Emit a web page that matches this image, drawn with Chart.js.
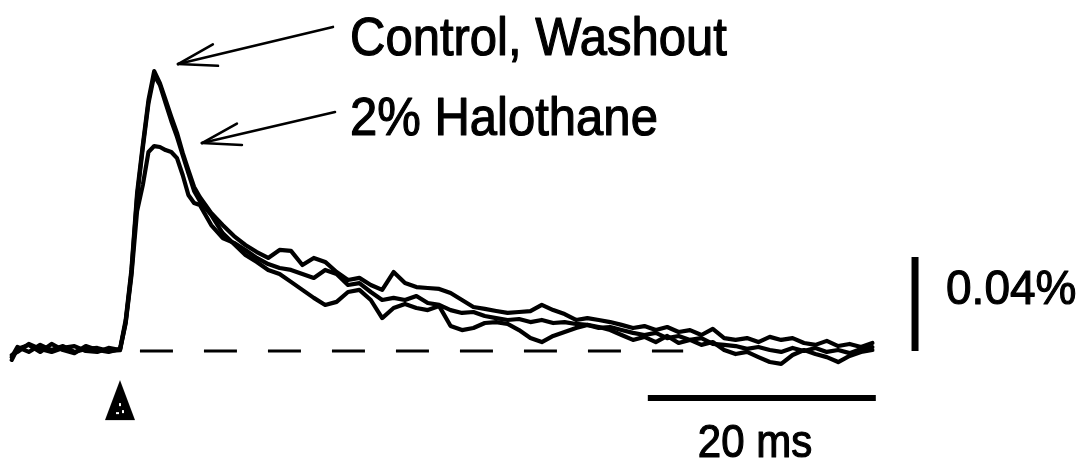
<!DOCTYPE html>
<html>
<head>
<meta charset="utf-8">
<script src="https://cdn.jsdelivr.net/npm/chart.js@4.4.1/dist/chart.umd.min.js"></script>
<style>
html,body{margin:0;padding:0;background:#fff;}
#wrap{width:1087px;height:464px;position:relative;background:#fff;}
</style>
</head>
<body>
<div id="wrap"><canvas id="c" width="1087" height="464"></canvas></div>
<script>
// ---- data (time in ms after stimulus, fluorescence change in % dF/F) ----
const timeMs = [-9.5,-9,-8,-7,-6,-5,-4,-3,-2,-1,0,
  0.5,1,1.5,2,2.5,3,3.5,4,4.5,5,5.5,6,6.5,7,
  8,9,10,11,12,13,14,15,16,17,18,19,20,21,22,23,24,25,26,27,28,29,30,31,32,33,34,35,36,37,
  38,39,40,41,42,43,44,45,46,47,48,49,50,51,52,53,54,55,56,57,58,59,60,61,62,63,64,65,66];

const control = [-0.0038,0.0009,0.0026,-0.0004,0.0030,0.0004,-0.0009,0.0021,0.0004,-0.0004,0.0009,
  0.0132,0.0345,0.0672,0.0877,0.1068,0.1191,0.1140,0.1068,0.0996,0.0928,0.0843,0.0770,0.0698,0.0655,
  0.0587,0.0536,0.0489,0.0451,0.0421,0.0396,0.0430,0.0426,0.0366,0.0396,0.0379,0.0336,0.0302,0.0311,0.0281,0.0260,0.0336,0.0289,0.0272,0.0268,0.0264,0.0247,0.0217,0.0187,0.0179,0.0170,0.0162,0.0166,0.0170,0.0196,
  0.0174,0.0157,0.0132,0.0140,0.0132,0.0123,0.0111,0.0098,0.0106,0.0089,0.0102,0.0081,0.0089,0.0068,0.0094,0.0055,0.0047,0.0055,0.0038,0.0060,0.0047,0.0055,0.0034,0.0026,0.0043,0.0021,0.0030,0.0017,0.0034];

const washout = [-0.0026,0.0017,-0.0004,0.0026,0.0004,0.0021,-0.0004,0.0009,0.0013,0,0.0004,
  0.0123,0.0332,0.0655,0.0864,0.1055,0.1174,0.1132,0.1055,0.0979,0.0911,0.0834,0.0757,0.0681,0.0638,
  0.0579,0.0502,0.0455,0.0409,0.0379,0.0345,0.0328,0.0294,0.0260,0.0226,0.0196,0.0209,0.0251,0.0260,0.0217,0.0140,0.0183,0.0200,0.0183,0.0174,0.0191,0.0106,0.0089,0.0098,0.0119,0.0123,0.0115,0.0089,0.0055,0.0038,
  0.0064,0.0081,0.0098,0.0111,0.0102,0.0089,0.0068,0.0047,0.0060,0.0038,0.0064,0.0034,0.0047,0.0026,0.0038,0.0004,-0.0013,-0.0004,-0.0026,-0.0047,-0.0055,-0.0017,0.0004,-0.0013,-0.0026,-0.0047,-0.0021,-0.0004,0.0004];

const halothane = [-0.0017,-0.0004,0.0030,0.0009,-0.0004,0.0013,0.0021,0,-0.0004,0.0013,0.0004,
  0.0119,0.0319,0.0596,0.0706,0.0847,0.0872,0.0868,0.0855,0.0847,0.0821,0.0749,0.0664,0.0630,0.0621,
  0.0536,0.0481,0.0460,0.0430,0.0396,0.0370,0.0353,0.0345,0.0328,0.0311,0.0345,0.0328,0.0281,0.0289,0.0251,0.0217,0.0226,0.0217,0.0234,0.0204,0.0196,0.0174,0.0162,0.0166,0.0149,0.0140,0.0132,0.0136,0.0123,0.0132,
  0.0119,0.0123,0.0115,0.0111,0.0098,0.0102,0.0089,0.0077,0.0068,0.0077,0.0055,0.0064,0.0047,0.0055,0.0030,0.0026,0.0021,0.0009,0.0017,0.0004,-0.0004,0.0013,0,0.0013,-0.0004,0.0004,-0.0009,0.0009,0.0017];

const seriesNames = ['Control', 'Washout', '2% Halothane'];
const labelTexts = ['Control, Washout', '2% Halothane'];
const timeBarMs = 20;          // horizontal scale bar length (ms)
const timeBarLabel = '20 ms';
const ampBarPct = 0.04;        // vertical scale bar height (%)
const ampBarLabel = '0.04%';
const stimulusTime = 0;        // stimulus marker (ms)

// ---- layout (annotation placement in data units) ----
const view = { xMin: -10.526, xMax: 84.825, yMin: -0.04809, yMax: 0.14936 };
const baselineSpan = [1.75, 49.4];
const timeBarStart = 46.3, timeBarLevel = -0.0200;
const ampBarTime = 69.74, ampBarBase = 0;
const stimulusLevel = -0.0209;
const arrows = [
  { head: [5.09, 0.1221], tail: [18.68, 0.1379] },
  { head: [7.19, 0.0885], tail: [18.86, 0.1017] }
];
const textSpots = [
  { text: labelTexts[0], x: 20.18, y: 0.1260, align: 'left', size: 49, stretch: 1.1 },
  { text: labelTexts[1], x: 20.18, y: 0.0920, align: 'left', size: 49, stretch: 1.1 },
  { text: ampBarLabel, x: 72.46, y: 0.0200, align: 'left', size: 46, stretch: 1.06 },
  { text: timeBarLabel, x: 55.7, y: -0.0451, align: 'center', size: 42, stretch: 1.08 }
];

// stimulus triangle glyph
const tri = document.createElement('canvas');
tri.width = 32; tri.height = 42;
(function(){
  const g = tri.getContext('2d');
  g.fillStyle = '#000';
  g.beginPath(); g.moveTo(16, 1); g.lineTo(31, 41); g.lineTo(1, 41); g.closePath(); g.fill();
  g.fillStyle = '#fff';
  g.fillRect(15, 24, 2, 3); g.fillRect(12, 33, 3, 2); g.fillRect(18, 31, 2, 3);
})();

const toXY = arr => timeMs.map((t, i) => ({ x: t, y: arr[i] }));
const traceStyle = { borderColor: '#000', borderWidth: 4.2, pointRadius: 0, tension: 0, fill: false, clip: false, borderJoinStyle: 'round', borderCapStyle: 'round' };

const annotationPlugin = {
  id: 'annot',
  afterDatasetsDraw(chart) {
    const ctx = chart.ctx, xs = chart.scales.x, ys = chart.scales.y;
    ctx.save();
    ctx.strokeStyle = '#000'; ctx.fillStyle = '#000';
    ctx.lineWidth = 2.6; ctx.lineCap = 'round';
    arrows.forEach(a => {
      const hx = xs.getPixelForValue(a.head[0]), hy = ys.getPixelForValue(a.head[1]);
      const tx = xs.getPixelForValue(a.tail[0]), ty = ys.getPixelForValue(a.tail[1]);
      ctx.beginPath(); ctx.moveTo(tx, ty); ctx.lineTo(hx, hy); ctx.stroke();
      const ang = Math.atan2(ty - hy, tx - hx), len = 40, spread = 16 * Math.PI / 180;
      [ang - spread, ang + spread].forEach(b => {
        ctx.beginPath(); ctx.moveTo(hx, hy); ctx.lineTo(hx + len * Math.cos(b), hy + len * Math.sin(b)); ctx.stroke();
      });
    });
    textSpots.forEach(s => {
      ctx.save();
      ctx.translate(xs.getPixelForValue(s.x), ys.getPixelForValue(s.y));
      ctx.scale(1, s.stretch);
      ctx.font = s.size + 'px "Liberation Sans", Arial, sans-serif';
      ctx.textAlign = s.align; ctx.textBaseline = 'alphabetic';
      ctx.lineWidth = 1.1; ctx.lineJoin = 'round';
      ctx.fillText(s.text, 0, 0);
      ctx.strokeText(s.text, 0, 0);
      ctx.restore();
    });
    ctx.restore();
  }
};

new Chart(document.getElementById('c'), {
  type: 'line',
  data: {
    datasets: [
      Object.assign({ label: seriesNames[0], data: toXY(control) }, traceStyle),
      Object.assign({ label: seriesNames[1], data: toXY(washout) }, traceStyle),
      Object.assign({ label: seriesNames[2], data: toXY(halothane) }, traceStyle),
      { label: 'baseline', data: [{ x: baselineSpan[0], y: 0 }, { x: baselineSpan[1], y: 0 }],
        borderColor: '#000', borderWidth: 3, borderDash: [33, 31], pointRadius: 0, clip: false },
      { label: 'time bar', data: [{ x: timeBarStart, y: timeBarLevel }, { x: timeBarStart + timeBarMs, y: timeBarLevel }],
        borderColor: '#000', borderWidth: 6, pointRadius: 0, clip: false },
      { label: 'amplitude bar', data: [{ x: ampBarTime, y: ampBarBase }, { x: ampBarTime, y: ampBarBase + ampBarPct }],
        borderColor: '#000', borderWidth: 7, pointRadius: 0, clip: false },
      { type: 'scatter', label: 'stimulus', data: [{ x: stimulusTime, y: stimulusLevel }],
        pointStyle: tri, pointRadius: 10, showLine: false, clip: false }
    ]
  },
  options: {
    responsive: false,
    animation: false,
    devicePixelRatio: 1,
    layout: { padding: 0, autoPadding: false },
    plugins: { legend: { display: false }, tooltip: { enabled: false }, title: { display: false } },
    scales: {
      x: { type: 'linear', min: view.xMin, max: view.xMax, display: false },
      y: { type: 'linear', min: view.yMin, max: view.yMax, display: false }
    }
  },
  plugins: [annotationPlugin]
});
</script>
</body>
</html>
